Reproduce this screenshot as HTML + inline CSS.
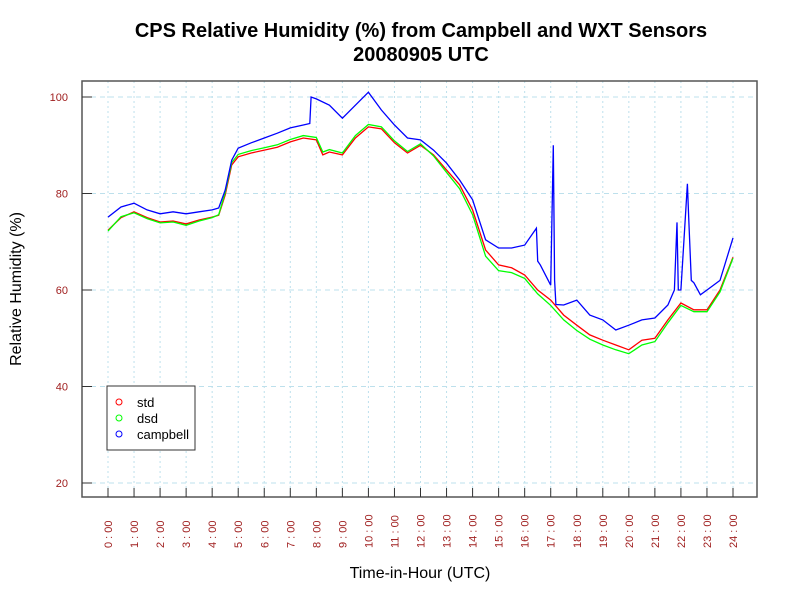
<!DOCTYPE html>
<html><head><meta charset="utf-8"><style>
body{margin:0;background:#fff;}
svg{display:block;font-family:"Liberation Sans",sans-serif;}
</style></head><body>
<svg id="chart" width="800" height="600" viewBox="0 0 800 600">
<rect width="800" height="600" fill="#fff"/>
<text x="421" y="37" text-anchor="middle" font-size="20" font-weight="bold">CPS Relative Humidity (%) from Campbell and WXT Sensors</text>
<text x="421" y="61" text-anchor="middle" font-size="20" font-weight="bold">20080905  UTC</text>
<g id="grid"></g>
<g id="series"></g>
<rect x="82" y="81" width="675" height="416" fill="none" stroke="#555" stroke-width="1.5"/>
<g id="axes"></g>
<text transform="translate(21,289) rotate(-90)" text-anchor="middle" font-size="16">Relative Humidity (%)</text>
<text x="420" y="578" text-anchor="middle" font-size="16">Time-in-Hour (UTC)</text>
<g>
<rect x="107" y="386" width="88" height="64" fill="#fff" stroke="#333" stroke-width="1"/>
<circle cx="119" cy="402" r="3" fill="none" stroke="#f00"/>
<text x="137" y="407" font-size="13">std</text>
<circle cx="119" cy="418" r="3" fill="none" stroke="#0f0"/>
<text x="137" y="423" font-size="13">dsd</text>
<circle cx="119" cy="434" r="3" fill="none" stroke="#00f"/>
<text x="137" y="439" font-size="13">campbell</text>
</g>
</svg>
<script>
const yTicks=[20,40,60,80,100];
const xTickHours=[0,1,2,3,4,5,6,7,8,9,10,11,12,13,14,15,16,17,18,19,20,21,22,23,24];
const stdTimes=[0,0.5,1,1.5,2,2.5,3,3.5,4,4.25,4.5,4.75,5,5.5,6,6.5,7,7.5,8,8.25,8.5,9,9.5,10,10.5,11,11.5,12,12.5,13,13.5,14,14.5,15,15.5,16,16.5,17,17.5,18,18.5,19,19.5,20,20.5,21,21.5,22,22.5,23,23.5,24];
const stdValues=[72.4,75,76.2,75,74.1,74.3,73.7,74.5,75.1,75.5,79.7,85.9,87.6,88.4,89,89.6,90.7,91.5,91.1,88,88.6,88,91.5,93.8,93.4,90.5,88.4,90,88,84.9,81.8,76.6,68.3,65.2,64.6,63.1,60,57.9,54.8,52.7,50.7,49.6,48.6,47.6,49.6,50,53.8,57.3,55.9,55.9,60,66.8];
const dsdValues=[72.2,75.2,76.0,74.8,73.9,74.1,73.4,74.3,75.0,75.6,80.2,86.4,88.1,88.9,89.5,90.1,91.2,92.0,91.6,88.6,89.1,88.4,92.0,94.3,93.8,90.9,88.7,90.3,87.8,84.4,81.0,75.6,67.0,64.0,63.6,62.4,59.2,56.8,53.8,51.6,49.8,48.6,47.6,46.8,48.6,49.3,53.2,56.8,55.5,55.5,59.6,66.6];
const campTimes=[0,0.5,1,1.5,2,2.5,3,3.5,4,4.25,4.5,4.75,5,5.5,6,6.5,7,7.5,7.75,7.8,8,8.5,9,9.5,10,10.5,11,11.5,12,12.5,13,13.5,14,14.5,15,15.5,16,16.45,16.5,16.6,17,17.1,17.15,17.2,17.5,18,18.5,19,19.5,20,20.5,21,21.5,21.75,21.85,21.9,22,22.25,22.3,22.4,22.5,22.75,23,23.5,24];
const campValues=[75.1,77.2,78,76.6,75.8,76.2,75.8,76.2,76.6,77,80.7,86.9,89.4,90.5,91.5,92.5,93.6,94.2,94.5,100,99.6,98.3,95.6,98.3,101,97.3,94.2,91.5,91.1,89,86.3,82.8,78.7,70.4,68.7,68.7,69.3,72.8,66,65.2,61,90,62,57,56.9,57.9,54.8,53.8,51.7,52.7,53.8,54.2,56.9,60,74,60,60,82,75,62,61.5,59,60,62,70.8];
const X0=82,X1=757,Y0=81,Y1=497;
const xs=h=>108+h*(733-108)/24;
const ys=v=>97+(100-v)*(483-97)/80;
const NS='http://www.w3.org/2000/svg';
const grid=document.getElementById('grid'),axes=document.getElementById('axes'),ser=document.getElementById('series');
function mk(tag,attrs,parent){const e=document.createElementNS(NS,tag);for(const k in attrs)e.setAttribute(k,attrs[k]);parent.appendChild(e);return e;}
yTicks.forEach(v=>{
  const g=mk('line',{x1:X0,x2:X1,y1:ys(v),y2:ys(v),stroke:'#bde0ec','stroke-dasharray':'5,4'},grid);
  
  
  const t=mk('line',{x1:X0,x2:X0+10,y1:ys(v),y2:ys(v),stroke:'#333'},axes);
  
  
  const l=mk('text',{x:X0-14,y:ys(v)+4,'text-anchor':'end','font-size':11,fill:'#a02020'},axes);
  l.textContent=v;
  
  
});
xTickHours.forEach(h=>{
  const g=mk('line',{x1:xs(h),x2:xs(h),y1:Y0,y2:Y1,stroke:'#bde0ec','stroke-dasharray':'2,3'},grid);
  
  
  const t=mk('line',{x1:xs(h),x2:xs(h),y1:Y1-9,y2:Y1,stroke:'#333'},axes);
  
  
  const l=mk('text',{transform:`translate(${xs(h)+4},548) rotate(-90)`,'font-size':11,fill:'#a02020'},axes);
  l.textContent=h+' : 00';
  
  
});
function line(times,vals,color,name){
  const d=times.map((t,i)=>(i?'L':'M')+xs(t).toFixed(1)+','+ys(vals[i]).toFixed(1)).join('');
  const p=mk('path',{d:d,fill:'none',stroke:color,'stroke-width':1.3},ser);
  
  
}
line(stdTimes,stdValues,'#f00','std-line');
line(stdTimes,dsdValues,'#0f0','dsd-line');
line(campTimes,campValues,'#00f','campbell-line');
</script>
</body></html>
